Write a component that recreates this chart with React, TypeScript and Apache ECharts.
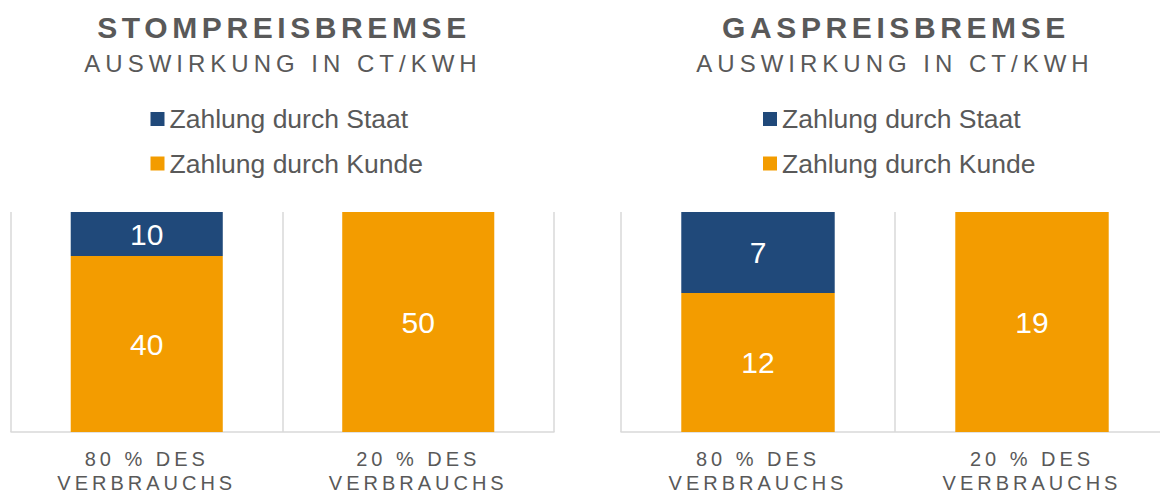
import React, { useEffect, useRef } from "react";
import * as echarts from "echarts";

const categories = ["80 % DES\nVERBRAUCHS", "20 % DES\nVERBRAUCHS"];
const seriesNames = ["Zahlung durch Staat", "Zahlung durch Kunde"];
const stromKunde = [40, 50];
const stromStaat = [10, null];
const gasKunde = [12, 19];
const gasStaat = [7, null];
const stromMax = 50;
const gasMax = 19;
const titles = ["STOMPREISBREMSE", "GASPREISBREMSE"];
const subtitle = "AUSWIRKUNG IN CT/KWH";

const BLUE = "#20497A";
const ORANGE = "#F39C00";
const GRAY = "#595959";
const LINE = "#D9D9D9";
const FONT = "Liberation Sans, Arial, sans-serif";

const css = `
html, body { margin: 0; overflow: hidden; }
svg text[style*="sptitle"] { letter-spacing: 4.6px; }
svg text[style*="spsub"] { letter-spacing: 5px; }
svg text[style*="spxlab"] { letter-spacing: 4px; }
`;

export default function App() {
  const ref = useRef<HTMLDivElement>(null);
  useEffect(() => {
    const chart = echarts.init(ref.current!, null, { renderer: "svg" });
    const panels = [
      { left: 11, width: 543, center: 282 },
      { left: 621, width: 548, center: 894 },
    ];
    const xAxis = panels.map((p, i) => ({
      type: "category",
      gridIndex: i,
      data: categories,
      axisLine: { show: true, lineStyle: { color: LINE, width: 1.5 } },
      axisTick: { show: false },
      splitLine: { show: true, lineStyle: { color: LINE, width: 1.5 } },
      axisLabel: {
        color: GRAY,
        fontSize: 20,
        lineHeight: 24,
        margin: 15,
        fontFamily: "spxlab, " + FONT,
        interval: 0,
      },
    }));
    const yAxis = [stromMax, gasMax].map((m, i) => ({
      type: "value",
      gridIndex: i,
      min: 0,
      max: m,
      show: false,
      splitLine: { show: false },
    }));
    const label = {
      show: true,
      position: "inside",
      color: "#FFFFFF",
      fontSize: 30,
      fontFamily: FONT,
    };
    const mk = (name: string, data: any[], i: number, color: string) => ({
      name,
      type: "bar",
      stack: "s" + i,
      xAxisIndex: i,
      yAxisIndex: i,
      data,
      barWidth: "56%",
      itemStyle: { color },
      label,
    });
    const series = [
      mk(seriesNames[1], stromKunde, 0, ORANGE),
      mk(seriesNames[0], stromStaat, 0, BLUE),
      mk(seriesNames[1], gasKunde, 1, ORANGE),
      mk(seriesNames[0], gasStaat, 1, BLUE),
    ];
    const legendLefts = [150.5, 763];
    const legend = legendLefts.map((l) => ({
      orient: "vertical",
      left: l,
      top: 104,
      padding: 0,
      itemGap: 14.5,
      itemWidth: 14,
      itemHeight: 14,
      icon: "rect",
      selectedMode: false,
      data: seriesNames,
      textStyle: { color: GRAY, fontSize: 26.5, lineHeight: 30, fontFamily: FONT },
    }));
    const graphic: any[] = [];
    panels.forEach((p, i) => {
      graphic.push({
        type: "text",
        x: p.center + 2,
        y: 27,
        style: {
          text: titles[i],
          fill: GRAY,
          fontSize: 30,
          fontWeight: "bold",
          fontFamily: "sptitle, " + FONT,
          align: "center",
          verticalAlign: "middle",
          textAlign: "center",
          textVerticalAlign: "middle",
        },
      });
      graphic.push({
        type: "text",
        x: p.center + 1,
        y: 63,
        style: {
          text: subtitle,
          fill: GRAY,
          fontSize: 24,
          fontFamily: "spsub, " + FONT,
          align: "center",
          verticalAlign: "middle",
          textAlign: "center",
          textVerticalAlign: "middle",
        },
      });
    });
    chart.setOption({
      animation: false,
      backgroundColor: "#FFFFFF",
      grid: panels.map((p) => ({ left: p.left, width: p.width, top: 212, height: 222.5 })),
      xAxis,
      yAxis,
      legend,
      series,
      graphic,
    });
    return () => chart.dispose();
  }, []);
  return (
    <>
      <style>{css}</style>
      <div ref={ref} style={{ width: 1175, height: 495 }} />
    </>
  );
}
